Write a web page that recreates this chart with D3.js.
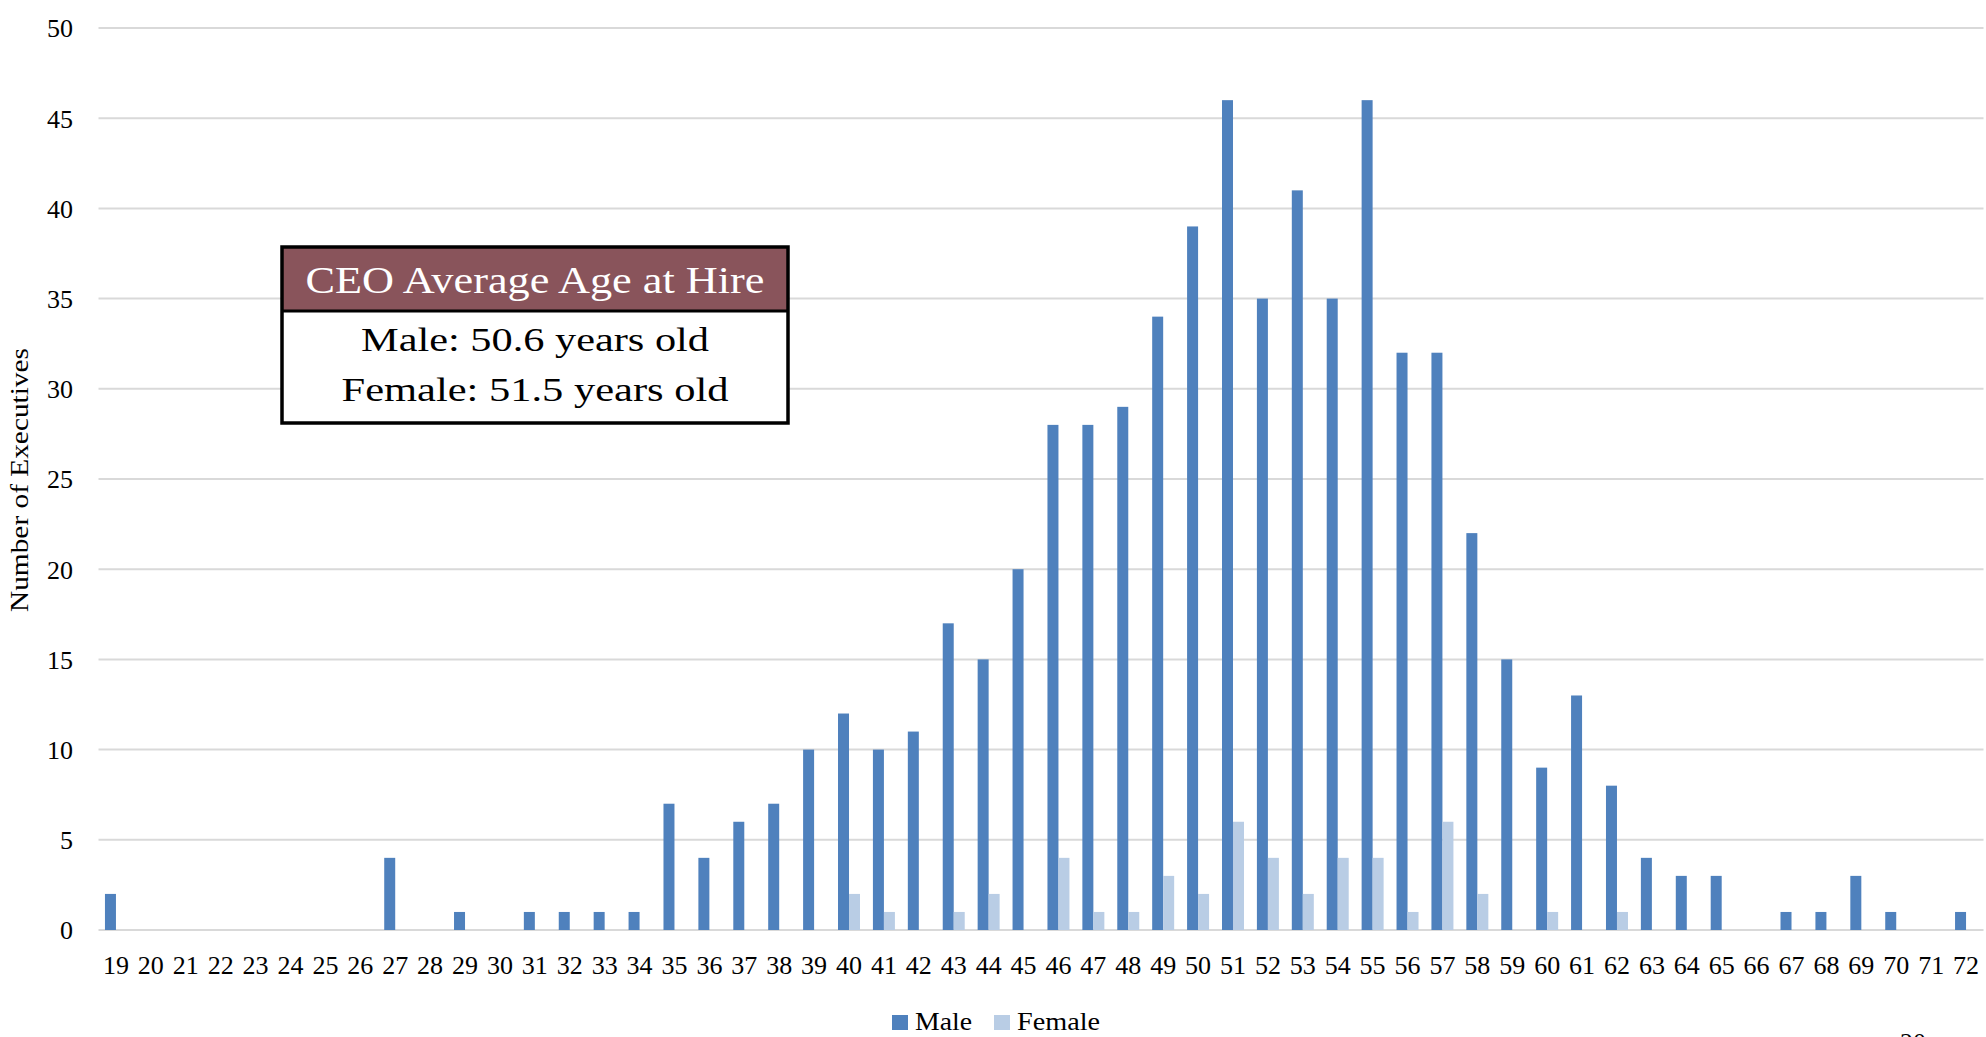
<!DOCTYPE html>
<html>
<head>
<meta charset="utf-8">
<script src="https://cdn.jsdelivr.net/npm/d3@7"></script>
<style>
  html, body { margin: 0; padding: 0; background: #ffffff; }
  svg { display: block; }
  text { font-family: "Liberation Serif", "DejaVu Serif", serif; fill: #000; }
</style>
</head>
<body>
<svg id="chart" width="1986" height="1037"></svg>
<script>
// ---- Data ----
const ages = [19,20,21,22,23,24,25,26,27,28,29,30,31,32,33,34,35,36,37,38,39,40,41,42,43,44,45,46,47,48,49,50,51,52,53,54,55,56,57,58,59,60,61,62,63,64,65,66,67,68,69,70,71,72];
const maleCounts = [2,0,0,0,0,0,0,0,4,0,1,0,1,1,1,1,7,4,6,7,10,12,10,11,17,15,20,28,28,29,34,39,46,35,41,35,46,32,32,22,15,9,13,8,4,3,3,0,1,1,3,1,0,1];
const femaleCounts = [0,0,0,0,0,0,0,0,0,0,0,0,0,0,0,0,0,0,0,0,0,2,1,0,1,2,0,4,1,1,3,2,6,4,2,4,4,1,6,2,0,1,0,1,0,0,0,0,0,0,0,0,0,0];
const seriesNames = ["Male", "Female"];
const seriesColors = ["#4F81BD", "#B9CDE5"];
const yTicks = [0,5,10,15,20,25,30,35,40,45,50];
const yTitle = "Number of Executives";
const boxTitle = "CEO Average Age at Hire";
const boxLines = ["Male: 50.6 years old", "Female: 51.5 years old"];
const pageNumber = "20";

// ---- Layout ----
const svg = d3.select("#chart");
const plot = { left: 98.5, right: 1983.5, top: 28, bottom: 930 };

const x = d3.scaleBand().domain(ages).range([plot.left, plot.right])
  .paddingInner(0.37).paddingOuter(0.185);
const xSub = d3.scaleBand().domain(seriesNames).range([0, x.bandwidth()]);
const y = d3.scaleLinear().domain([0, 50]).range([plot.bottom, plot.top]);

function stretchTo(sel, target) {
  sel.attr("textLength", target).attr("lengthAdjust", "spacingAndGlyphs");
}

// Gridlines
svg.append("g").selectAll("line").data(yTicks).join("line")
  .attr("x1", plot.left).attr("x2", plot.right)
  .attr("y1", d => y(d)).attr("y2", d => y(d))
  .attr("stroke", "#D9D9D9").attr("stroke-width", 2);

// Y axis labels
const yAxis = d3.axisLeft(y).tickValues(yTicks).tickSize(0).tickPadding(0);
const yg = svg.append("g").attr("transform", `translate(73,0)`).call(yAxis);
yg.select(".domain").remove();
yg.selectAll("text").attr("font-size", 26).attr("font-family", "Liberation Serif")
  .attr("fill", "#000").attr("dy", "0.34em").attr("x", 0);

// X axis labels
const xAxis = d3.axisBottom(x).tickSize(0).tickPadding(0);
const xg = svg.append("g").attr("transform", `translate(0,${plot.bottom})`).call(xAxis);
xg.select(".domain").remove();
xg.selectAll("text").attr("font-size", 26).attr("font-family", "Liberation Serif")
  .attr("fill", "#000").attr("dy", null).attr("y", 44);

// Bars
const groups = svg.append("g").selectAll("g").data(ages).join("g")
  .attr("transform", d => `translate(${x(d)},0)`);
groups.selectAll("rect").data((d, i) => [
    { s: "Male", v: maleCounts[i] },
    { s: "Female", v: femaleCounts[i] }
  ].filter(e => e.v > 0)).join("rect")
  .attr("x", d => xSub(d.s))
  .attr("width", xSub.bandwidth())
  .attr("y", d => y(d.v))
  .attr("height", d => y(0) - y(d.v))
  .attr("fill", d => seriesColors[seriesNames.indexOf(d.s)]);

// Y title
const yt = svg.append("text").attr("transform", "translate(28,480) rotate(-90)")
  .attr("text-anchor", "middle").attr("font-size", 25).text(yTitle);
stretchTo(yt, 264);

// Legend
const legendItems = [
  { name: "Male", sx: 892, tx: 915, w: 57 },
  { name: "Female", sx: 994, tx: 1017, w: 83 }
];
legendItems.forEach((it, i) => {
  svg.append("rect").attr("x", it.sx).attr("y", 1015).attr("width", 16).attr("height", 15)
    .attr("fill", seriesColors[i]);
  const t = svg.append("text").attr("x", it.tx).attr("y", 1030).attr("font-size", 26).text(it.name);
  stretchTo(t, it.w);
});

// Annotation box
const box = { x: 282, y: 247, w: 506, h: 176, titleH: 64 };
const bcx = box.x + box.w / 2;
svg.append("rect").attr("x", box.x).attr("y", box.y).attr("width", box.w).attr("height", box.titleH)
  .attr("fill", "#89545B");
svg.append("rect").attr("x", box.x).attr("y", box.y + box.titleH).attr("width", box.w).attr("height", box.h - box.titleH)
  .attr("fill", "#ffffff");
svg.append("line").attr("x1", box.x).attr("x2", box.x + box.w)
  .attr("y1", box.y + box.titleH).attr("y2", box.y + box.titleH)
  .attr("stroke", "#000").attr("stroke-width", 3);
svg.append("rect").attr("x", box.x).attr("y", box.y).attr("width", box.w).attr("height", box.h)
  .attr("fill", "none").attr("stroke", "#000").attr("stroke-width", 3.5);

const tt = svg.append("text").attr("x", bcx).attr("y", 293).attr("text-anchor", "middle")
  .attr("font-size", 37).style("fill", "#ffffff").text(boxTitle);
stretchTo(tt, 459);
const l1 = svg.append("text").attr("x", bcx).attr("y", 351).attr("text-anchor", "middle")
  .attr("font-size", 34).text(boxLines[0]);
stretchTo(l1, 348);
const l2 = svg.append("text").attr("x", bcx).attr("y", 401).attr("text-anchor", "middle")
  .attr("font-size", 34).text(boxLines[1]);
stretchTo(l2, 387);

// Page number (cut off at bottom, as in the reference)
svg.append("text").attr("x", 1900).attr("y", 1051).attr("font-size", 26).text(pageNumber);
</script>
</body>
</html>
